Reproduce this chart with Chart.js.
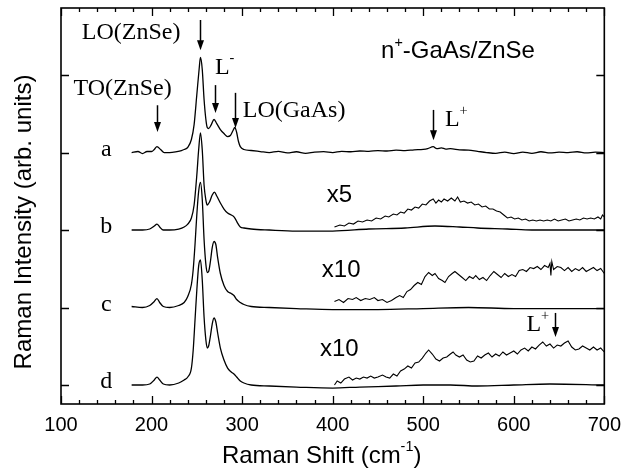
<!DOCTYPE html>
<html>
<head>
<meta charset="utf-8">
<script src="https://cdn.jsdelivr.net/npm/chart.js@4.4.0/dist/chart.umd.min.js"></script>
<style>
body { margin: 0; background: white; }
</style>
</head>
<body>
<canvas id="myChart" width="630" height="473"></canvas>
<script>
// Raman shift (cm-1) and intensity above each trace's own baseline
let shift_a = [178, 185, 190, 195, 200, 203, 206, 210, 214, 220, 228, 233, 236, 240, 244, 247, 250, 252.5, 254, 256, 258, 260, 261.5, 263, 266, 269, 272, 276, 280, 284, 287, 290, 292, 294, 296, 298, 302, 310, 320, 330, 340, 350, 360, 370, 380, 390, 400, 410, 420, 430, 440, 450, 460, 470, 480, 490, 500, 505, 511, 515, 520, 525, 530, 540, 550, 560, 570, 580, 590, 600, 610, 620, 630, 640, 650, 660, 670, 680, 690, 700];
let int_a = [0, 0.013, -0.013, 0.013, 0.013, 0.039, 0.077, 0.039, 0, 0, 0.013, 0.026, 0.039, 0.065, 0.168, 0.361, 0.748, 1.071, 1.226, 1.071, 0.684, 0.426, 0.323, 0.31, 0.361, 0.426, 0.374, 0.297, 0.245, 0.206, 0.219, 0.284, 0.323, 0.258, 0.142, 0.077, 0.039, 0.026, 0.013, 0, 0.015, -0.005, 0.01, -0.01, 0.005, 0.012, 0, 0.015, 0.01, 0.02, 0.015, 0.025, 0.02, 0.03, 0.025, 0.035, 0.04, 0.05, 0.075, 0.05, 0.06, 0.045, 0.05, 0.035, 0.03, 0.015, 0, -0.01, 0.005, -0.015, 0.005, -0.01, 0.01, -0.005, 0.005, 0, 0.01, -0.005, 0.005, 0];

let shift_b = [178, 190, 198, 203, 206, 209, 213, 220, 230, 236, 240, 244, 247, 250, 252, 254, 256, 258, 260, 261.5, 264, 267, 269.5, 272, 276, 280, 284, 288, 290, 292, 295, 298, 302, 310, 330, 360, 400, 440, 480, 513, 540, 560, 593, 620, 660, 700];
let int_b = [0, 0, 0.013, 0.052, 0.077, 0.039, 0, 0, 0.013, 0.039, 0.077, 0.155, 0.323, 0.71, 1.032, 1.252, 1.032, 0.581, 0.387, 0.323, 0.361, 0.452, 0.49, 0.439, 0.348, 0.271, 0.219, 0.194, 0.181, 0.155, 0.09, 0.039, 0.026, 0.013, 0, -0.013, -0.013, 0.013, 0.026, 0.052, 0.039, 0.026, 0.013, 0, 0, 0];

let shift_c = [178, 190, 198, 203, 206, 209, 213, 220, 230, 236, 240, 244, 246, 248, 250, 252, 254, 256, 258, 260, 261.5, 263, 265, 267, 269, 271, 273, 276, 280, 284, 288, 291, 294, 298, 302, 310, 330, 360, 400, 450, 500, 550, 600, 650, 700];
let int_c = [0.013, 0, 0.026, 0.077, 0.116, 0.065, 0.013, 0, 0.026, 0.065, 0.142, 0.297, 0.49, 0.813, 1.2, 1.497, 1.613, 1.394, 0.877, 0.555, 0.452, 0.465, 0.594, 0.774, 0.852, 0.813, 0.645, 0.439, 0.284, 0.206, 0.181, 0.155, 0.103, 0.065, 0.039, 0.013, 0, -0.013, -0.026, -0.026, -0.013, 0, -0.013, -0.013, -0.013];

let shift_d = [178, 190, 198, 203, 206, 209, 213, 220, 230, 236, 240, 244, 246, 248, 250, 252, 254, 256, 258, 260, 261.5, 263, 265, 267, 269, 271, 273, 276, 280, 284, 288, 291, 294, 298, 302, 310, 330, 360, 400, 430, 470, 500, 530, 560, 600, 640, 700];
let int_d = [0, 0, 0.013, 0.065, 0.103, 0.065, 0.013, 0, 0.026, 0.065, 0.103, 0.219, 0.452, 0.839, 1.226, 1.535, 1.613, 1.355, 0.877, 0.581, 0.477, 0.503, 0.632, 0.787, 0.865, 0.813, 0.671, 0.477, 0.323, 0.219, 0.168, 0.142, 0.103, 0.052, 0.026, 0, -0.013, -0.026, -0.039, -0.026, -0.013, 0, 0, -0.013, 0, 0.013, 0];

// magnified high-shift parts (x5 for b, x10 for c and d)
let shift_b5 = [402, 408, 413, 418, 423, 428, 433, 438, 443, 448, 453, 458, 462, 467, 471, 475, 479, 483, 487, 491, 495, 499, 503, 507, 511, 514, 517, 520, 523, 527, 531, 535, 538, 541, 545, 549, 553, 557, 561, 565, 569, 573, 577, 581, 585, 589, 593, 597, 601, 605, 609, 613, 617, 621, 625, 629, 633, 637, 641, 645, 649, 653, 657, 661, 665, 669, 673, 677, 681, 685, 689, 693, 696, 698, 700];
let int_b5 = [0.039, 0.065, 0.052, 0.09, 0.077, 0.116, 0.103, 0.129, 0.116, 0.155, 0.142, 0.181, 0.168, 0.206, 0.194, 0.232, 0.219, 0.271, 0.258, 0.297, 0.284, 0.335, 0.323, 0.374, 0.4, 0.348, 0.387, 0.361, 0.4, 0.374, 0.413, 0.374, 0.426, 0.361, 0.374, 0.348, 0.361, 0.323, 0.335, 0.297, 0.31, 0.271, 0.271, 0.245, 0.232, 0.194, 0.155, 0.168, 0.142, 0.155, 0.129, 0.142, 0.116, 0.129, 0.116, 0.129, 0.116, 0.129, 0.116, 0.142, 0.116, 0.129, 0.142, 0.116, 0.129, 0.142, 0.129, 0.155, 0.142, 0.155, 0.142, 0.168, 0.142, 0.194, 0.168];

let shift_c10 = [402, 407, 412, 417, 422, 426, 431, 436, 441, 446, 450, 455, 460, 465, 470, 474, 478, 482, 486, 490, 494, 498, 502, 506, 510, 513, 517, 521, 524, 528, 532, 535, 539, 543, 547, 551, 555, 558, 562, 566, 570, 574, 578, 582, 586, 590, 594, 598, 602, 606, 610, 614, 618, 622, 626, 630, 634, 638, 640, 641, 642, 644, 648, 652, 656, 660, 664, 668, 672, 676, 680, 684, 688, 692, 696, 700];
let int_c10 = [0.077, 0.103, 0.065, 0.116, 0.103, 0.129, 0.09, 0.116, 0.103, 0.129, 0.09, 0.103, 0.065, 0.09, 0.129, 0.155, 0.129, 0.206, 0.232, 0.284, 0.323, 0.297, 0.4, 0.452, 0.413, 0.439, 0.374, 0.348, 0.323, 0.4, 0.439, 0.465, 0.426, 0.387, 0.348, 0.4, 0.374, 0.413, 0.361, 0.387, 0.348, 0.413, 0.465, 0.426, 0.387, 0.439, 0.4, 0.426, 0.4, 0.477, 0.49, 0.465, 0.516, 0.503, 0.529, 0.49, 0.542, 0.516, 0.568, 0.413, 0.594, 0.49, 0.529, 0.516, 0.477, 0.516, 0.465, 0.503, 0.477, 0.516, 0.465, 0.49, 0.516, 0.477, 0.503, 0.439];

let shift_d10 = [402, 405, 409, 413, 418, 422, 426, 430, 434, 438, 442, 446, 450, 455, 459, 463, 467, 471, 475, 479, 483, 487, 491, 495, 499, 503, 506, 510, 514, 518, 522, 526, 530, 533, 536, 540, 544, 548, 552, 556, 560, 564, 568, 572, 576, 580, 584, 588, 592, 596, 600, 604, 608, 612, 616, 620, 624, 628, 632, 636, 640, 644, 648, 652, 656, 660, 664, 668, 672, 676, 680, 684, 688, 692, 696, 700];
let int_d10 = [0, 0.052, 0.026, 0.077, 0.103, 0.065, 0.09, 0.077, 0.103, 0.09, 0.116, 0.09, 0.103, 0.129, 0.103, 0.09, 0.142, 0.116, 0.181, 0.206, 0.245, 0.219, 0.284, 0.297, 0.348, 0.413, 0.452, 0.4, 0.335, 0.31, 0.348, 0.361, 0.4, 0.426, 0.387, 0.361, 0.387, 0.323, 0.297, 0.31, 0.374, 0.348, 0.387, 0.413, 0.361, 0.4, 0.374, 0.426, 0.387, 0.413, 0.439, 0.4, 0.452, 0.477, 0.439, 0.49, 0.465, 0.516, 0.555, 0.503, 0.529, 0.477, 0.516, 0.503, 0.542, 0.568, 0.49, 0.452, 0.465, 0.503, 0.477, 0.452, 0.49, 0.452, 0.477, 0.426];

// vertical offset of each trace
let trace_names = ['a', 'b', 'c', 'd'];
let trace_offsets = [3, 2, 1, 0];

let x_ticks = [100, 200, 300, 400, 500, 600, 700];
let y_ticks = [0, 1, 2, 3, 4];

// annotations, '^' toggles superscript
let serif_text = ['LO(ZnSe)', 'TO(ZnSe)', 'L^-^', 'LO(GaAs)', 'L^+^', 'L^+^'];
let serif_x = [177.5, 168, 270, 300.7, 524, 614];
let serif_y = [4.54, 3.83, 4.10, 3.535, 3.42, 0.774];
let serif_align = ['center', 'center', 'left', 'left', 'left', 'left'];

let sans_text = ['n^+^-GaAs/ZnSe', 'x5', 'x10', 'x10'];
let sans_x = [453.5, 393.5, 388, 386];
let sans_y = [4.30, 2.45, 1.48, 0.465];

let arrow_x = [253.8, 205.8, 270.2, 292, 511.3, 645.5];
let arrow_top = [4.71, 3.61, 3.87, 3.77, 3.55, 0.93];
let arrow_tip = [4.32, 3.265, 3.51, 3.316, 3.16, 0.62];

let serif = '"Liberation Serif", "Times New Roman", serif';
let sans = '"Liberation Sans", Arial, sans-serif';

function pts(xs, ys, off) {
    let out = [];
    for (let i = 0; i < xs.length; i++) {
        out.push({ x: xs[i], y: ys[i] + off });
    }
    return out;
}

function drawRich(ctx, text, x, y, size, family, align) {
    let parts = text.split('^');
    let widths = [];
    let total = 0;
    for (let i = 0; i < parts.length; i++) {
        ctx.font = (i % 2 ? size * 0.6 : size) + 'px ' + family;
        let w = ctx.measureText(parts[i]).width;
        widths.push(w);
        total += w;
    }
    let cx = align === 'center' ? x - total / 2 : x;
    ctx.textAlign = 'left';
    ctx.textBaseline = 'middle';
    for (let i = 0; i < parts.length; i++) {
        ctx.font = (i % 2 ? size * 0.6 : size) + 'px ' + family;
        ctx.fillText(parts[i], cx, i % 2 ? y - size * 0.38 : y);
        cx += widths[i];
    }
}

function drawArrow(ctx, x, y1, y2) {
    ctx.beginPath();
    ctx.moveTo(x, y1);
    ctx.lineTo(x, y2 - 8);
    ctx.stroke();
    ctx.beginPath();
    ctx.moveTo(x - 3.5, y2 - 10);
    ctx.lineTo(x + 3.5, y2 - 10);
    ctx.lineTo(x, y2);
    ctx.closePath();
    ctx.fill();
}

const decor = {
    id: 'decor',
    afterDatasetsDraw(chart) {
        let ctx = chart.ctx;
        let area = chart.chartArea;
        let xs = chart.scales.x;
        let ys = chart.scales.y;
        ctx.save();
        ctx.strokeStyle = '#000';
        ctx.fillStyle = '#000';
        ctx.lineWidth = 1.6;
        ctx.strokeRect(area.left, area.top, area.right - area.left, area.bottom - area.top);

        // inward ticks on all four sides
        ctx.lineWidth = 1.3;
        ctx.beginPath();
        xs.ticks.forEach(t => {
            let px = Math.round(xs.getPixelForValue(t.value)) + 0.5;
            let len = x_ticks.includes(t.value) ? 8 : 4;
            ctx.moveTo(px, area.bottom);
            ctx.lineTo(px, area.bottom - len);
            ctx.moveTo(px, area.top);
            ctx.lineTo(px, area.top + len);
        });
        y_ticks.forEach(v => {
            let py = Math.round(ys.getPixelForValue(v)) + 0.5;
            ctx.moveTo(area.left, py);
            ctx.lineTo(area.left + 8, py);
            ctx.moveTo(area.right, py);
            ctx.lineTo(area.right - 8, py);
        });
        ctx.stroke();

        // axis titles
        drawRich(ctx, 'Raman Shift (cm^-1^)', (area.left + area.right) / 2 - 11, 456, 24, sans, 'center');
        ctx.save();
        ctx.translate(24, 222);
        ctx.rotate(-Math.PI / 2);
        drawRich(ctx, 'Raman Intensity (arb. units)', 0, 0, 24, sans, 'center');
        ctx.restore();

        // trace letters
        for (let i = 0; i < trace_names.length; i++) {
            drawRich(ctx, trace_names[i], xs.getPixelForValue(150), ys.getPixelForValue(trace_offsets[i] + 0.04), 24, serif, 'center');
        }
        for (let i = 0; i < serif_text.length; i++) {
            drawRich(ctx, serif_text[i], xs.getPixelForValue(serif_x[i]), ys.getPixelForValue(serif_y[i]), 24, serif, serif_align[i]);
        }
        for (let i = 0; i < sans_text.length; i++) {
            drawRich(ctx, sans_text[i], xs.getPixelForValue(sans_x[i]), ys.getPixelForValue(sans_y[i]), 24, sans, 'left');
        }
        ctx.lineWidth = 1.5;
        for (let i = 0; i < arrow_x.length; i++) {
            let px = Math.round(xs.getPixelForValue(arrow_x[i])) + 0.5;
            drawArrow(ctx, px, ys.getPixelForValue(arrow_top[i]), ys.getPixelForValue(arrow_tip[i]));
        }
        ctx.restore();
    }
};

function draw_raman() {
    let ctx = document.getElementById('myChart');
    let main = { borderColor: '#000', borderWidth: 1.3, pointRadius: 0, cubicInterpolationMode: 'monotone', fill: false };
    let noisy = { borderColor: '#000', borderWidth: 1.1, pointRadius: 0, tension: 0, fill: false };
    let chart = new Chart(ctx, {
        type: 'line',
        data: {
            datasets: [
                Object.assign({ label: 'a', data: pts(shift_a, int_a, trace_offsets[0]) }, main),
                Object.assign({ label: 'b', data: pts(shift_b, int_b, trace_offsets[1]) }, main),
                Object.assign({ label: 'c', data: pts(shift_c, int_c, trace_offsets[2]) }, main),
                Object.assign({ label: 'd', data: pts(shift_d, int_d, trace_offsets[3]) }, main),
                Object.assign({ label: 'b x5', data: pts(shift_b5, int_b5, trace_offsets[1]) }, noisy),
                Object.assign({ label: 'c x10', data: pts(shift_c10, int_c10, trace_offsets[2]) }, noisy),
                Object.assign({ label: 'd x10', data: pts(shift_d10, int_d10, trace_offsets[3]) }, noisy),
            ]
        },
        options: {
            responsive: false,
            animation: false,
            layout: { padding: { top: 8, right: 19, left: 0, bottom: 0 } },
            plugins: { legend: { display: false }, tooltip: { enabled: false } },
            scales: {
                x: {
                    type: 'linear',
                    min: 100,
                    max: 700,
                    grid: { display: false, drawTicks: false },
                    border: { display: false },
                    ticks: {
                        stepSize: 20,
                        autoSkip: false,
                        maxRotation: 0,
                        padding: 9,
                        color: '#000',
                        font: { family: sans, size: 20 },
                        callback: v => x_ticks.includes(v) ? String(v) : ''
                    },
                    afterFit: s => { s.height = 69; }
                },
                y: {
                    min: -0.245,
                    max: 4.865,
                    grid: { display: false, drawTicks: false },
                    border: { display: false },
                    ticks: { display: false, stepSize: 1 },
                    afterFit: s => { s.width = 61; }
                }
            }
        },
        plugins: [decor]
    });
}

draw_raman();
</script>
</body>
</html>
